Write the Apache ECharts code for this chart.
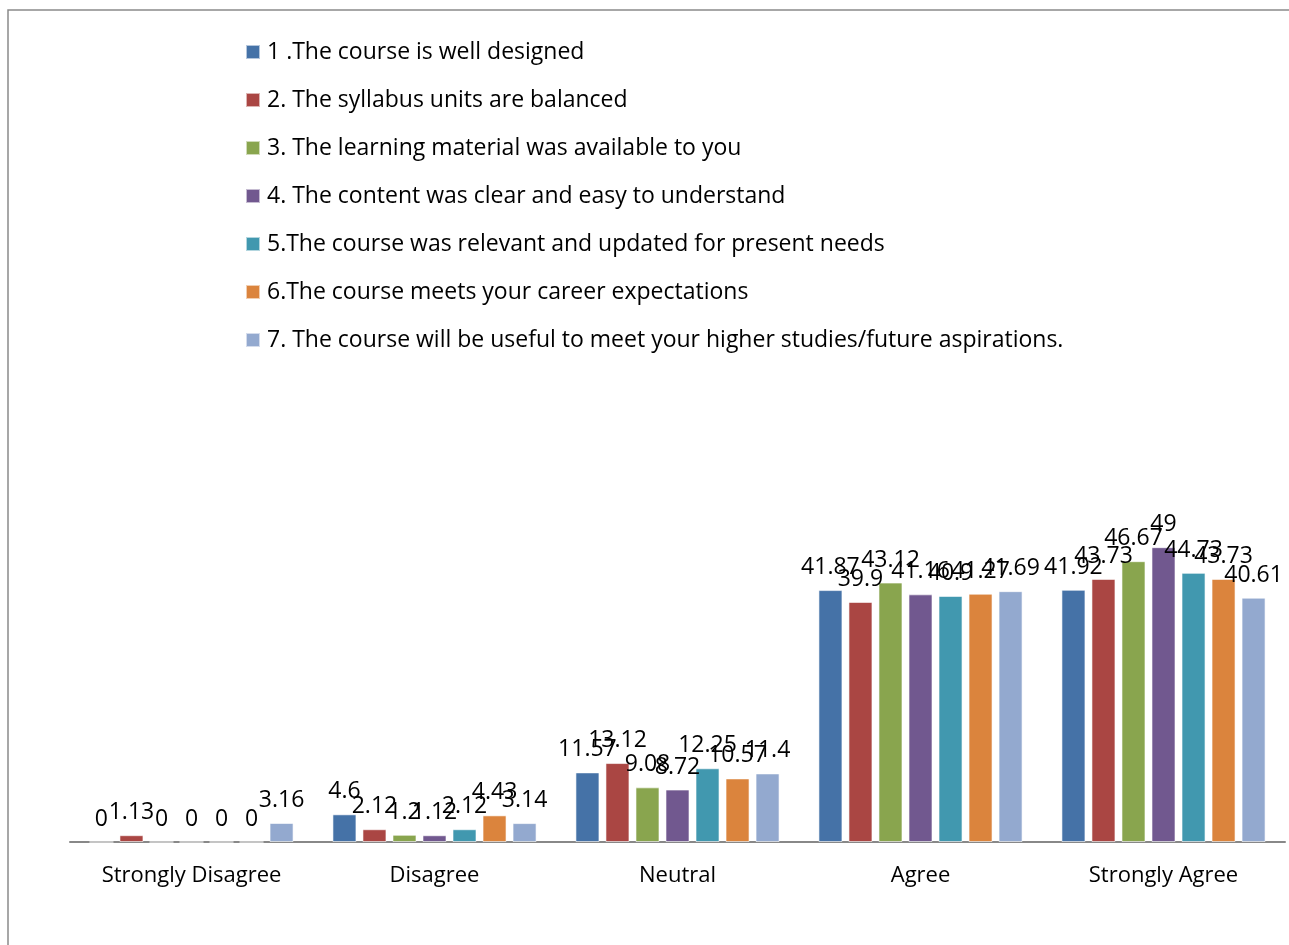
<!DOCTYPE html>
<html>
<head>
<meta charset="utf-8">
<script src="https://cdn.jsdelivr.net/npm/echarts@6/dist/echarts.min.js"></script>
<style>
  html, body { margin: 0; padding: 0; background: #fff; }
  #chart { width: 1289px; height: 945px; }
</style>
</head>
<body>
<div id="chart"></div>
<script>
const categories = ['Strongly Disagree', 'Disagree', 'Neutral', 'Agree', 'Strongly Agree']

const seriesNames = [
  '1 .The course is well designed',
  '2. The syllabus units are balanced',
  '3. The learning material was available to you',
  '4. The content was clear and easy to understand',
  '5.The course was relevant and updated for present needs',
  '6.The course meets your career expectations',
  '7. The course will be useful to meet your higher studies/future aspirations.'
]

const q1 = [0, 4.6, 11.57, 41.87, 41.92]
const q2 = [1.13, 2.12, 13.12, 39.9, 43.73]
const q3 = [0, 1.2, 9.08, 43.12, 46.67]
const q4 = [0, 1.12, 8.72, 41.16, 49]
const q5 = [0, 2.12, 12.25, 40.9, 44.73]
const q6 = [0, 4.43, 10.57, 41.27, 43.73]
const q7 = [3.16, 3.14, 11.4, 41.69, 40.61]

const colors = ['#4572A7', '#AA4643', '#89A54E', '#71588F', '#4198AF', '#DB843D', '#93A9CF']
const font = 'Open Sans'

const chart = echarts.init(document.getElementById('chart'))

const option = {
  animation: false,
  color: colors,
  textStyle: { fontFamily: font },
  graphic: [
    {
      type: 'polyline',
      shape: { points: [[8, 945], [8, 10], [1289, 10]] },
      style: { stroke: '#8a8a8a', lineWidth: 1.5, fill: null }
    }
  ],
  legend: {
    orient: 'vertical',
    left: 245,
    top: 40,
    padding: 0,
    itemWidth: 14,
    itemHeight: 14,
    itemGap: 24,
    icon: 'rect',
    textStyle: { fontSize: 23, lineHeight: 24, color: '#000', fontFamily: font, padding: [0, 0, 0, 2] },
    data: seriesNames
  },
  grid: { left: 70, right: 4, top: 481, bottom: 103 },
  xAxis: {
    type: 'category',
    data: categories,
    axisLine: { lineStyle: { color: '#888', width: 2 } },
    axisTick: { show: false },
    axisLabel: { interval: 0, fontSize: 22, color: '#000', margin: 23, fontFamily: font }
  },
  yAxis: {
    type: 'value',
    min: 0,
    max: 60,
    show: false
  },
  series: [q1, q2, q3, q4, q5, q6, q7].map((d, i) => ({
    name: seriesNames[i],
    type: 'bar',
    data: d,
    barGap: '25%',
    barCategoryGap: '16%',
    itemStyle: { borderColor: 'rgba(255,255,255,0.6)', borderWidth: 1 },
    label: {
      show: true,
      position: 'top',
      distance: 11,
      fontSize: 23,
      color: '#000',
      fontFamily: font
    }
  }))
}

chart.setOption(option)
</script>
</body>
</html>
